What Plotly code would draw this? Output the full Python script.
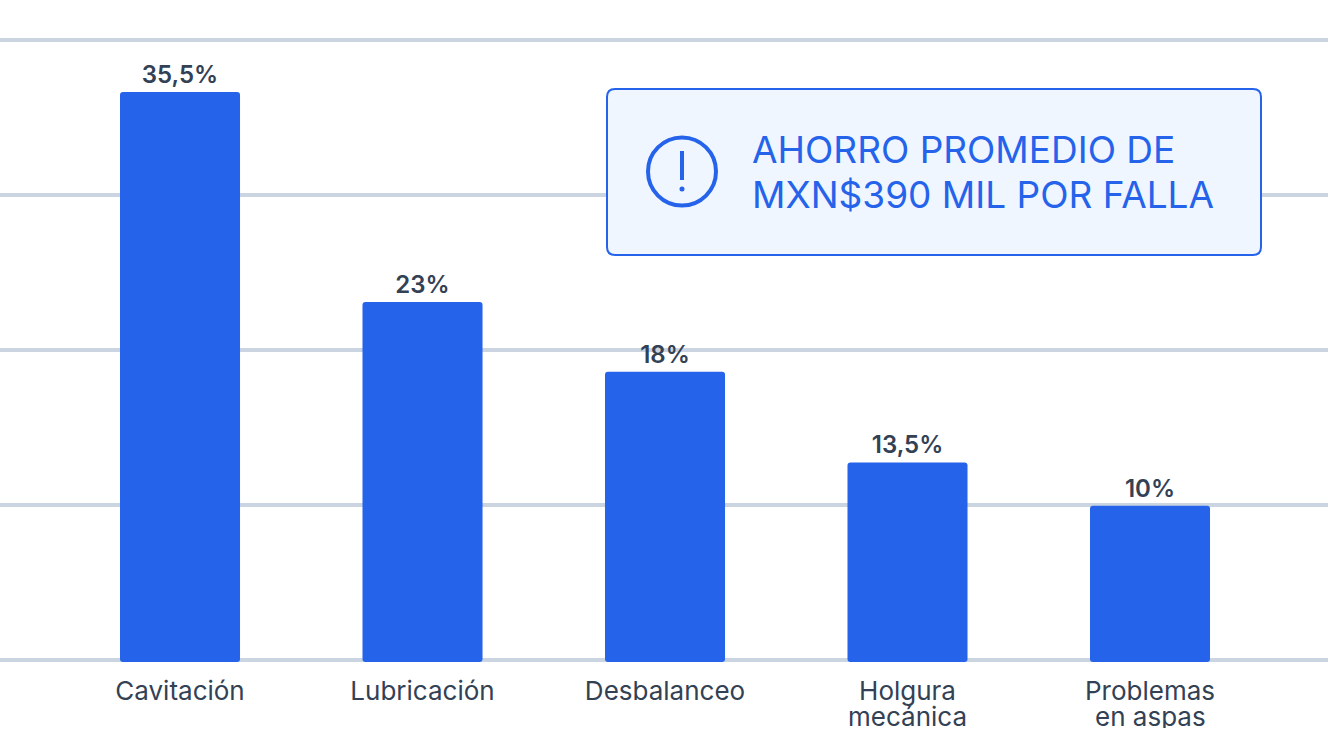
import plotly.graph_objects as go

categories = ["Cavitación", "Lubricación", "Desbalanceo", "Holgura", "Problemas"]
second_lines = ["", "", "", "mecánica", "en aspas"]
values = [36.65, 23.1, 18.6, 12.75, 9.95]
labels = ["35,5%", "23%", "18%", "13,5%", "10%"]
y_ticks = [0, 10, 20, 30, 40]

W, H = 1328, 730
L_T, L_B = 37, 663
ZERO_Y = 660
PX_PER_UNIT = 15.5
BLUE = "#2563EB"
SLATE = "#334155"
GRID = "#CBD5E1"
FONT = "Inter"
BAR_FLOOR = -0.13


def px(x):
    return x / W


def py(y):
    return (L_B - y) / (L_B - L_T)


fig = go.Figure(go.Bar(
    x=list(range(len(categories))), y=[v - BAR_FLOOR for v in values], base=BAR_FLOOR, width=0.495,
    marker=dict(color=BLUE, line_width=0, cornerradius=3),
    text=labels, textposition="outside", cliponaxis=False,
    textfont=dict(family=FONT, size=24, color=SLATE, weight=600),
    hoverinfo="skip",
))

x0, y0, x1, y1, r = px(607), py(89), px(1261), py(255), 8
rx, ry = r / W, r / (L_B - L_T)
box = (f"M {x0+rx} {y0} L {x1-rx} {y0} Q {x1} {y0} {x1} {y0-ry} L {x1} {y1+ry} Q {x1} {y1} {x1-rx} {y1} "
       f"L {x0+rx} {y1} Q {x0} {y1} {x0} {y1+ry} L {x0} {y0-ry} Q {x0} {y0} {x0+rx} {y0} Z")
shapes = [
    dict(type="path", path=box, xref="paper", yref="paper", fillcolor="#EFF6FF",
         line=dict(color=BLUE, width=2), layer="above"),
    dict(type="circle", xref="paper", yref="paper", x0=px(648), x1=px(716), y0=py(137.5), y1=py(205.5),
         line=dict(color=BLUE, width=4), layer="above"),
    dict(type="line", xref="paper", yref="paper", x0=px(682), x1=px(682), y0=py(151), y1=py(180),
         line=dict(color=BLUE, width=4), layer="above"),
    dict(type="circle", xref="paper", yref="paper", x0=px(679.5), x1=px(684.5), y0=py(186.5), y1=py(191.5),
         fillcolor=BLUE, line=dict(color=BLUE, width=0), layer="above"),
]

annotations = [
    dict(text="AHORRO PROMEDIO DE", xref="paper", yref="paper", x=px(750), y=py(150),
         xanchor="left", yanchor="middle", showarrow=False,
         font=dict(family=FONT, size=37, color=BLUE)),
    dict(text="MXN$390 MIL POR FALLA", xref="paper", yref="paper", x=px(750), y=py(194),
         xanchor="left", yanchor="middle", showarrow=False,
         font=dict(family=FONT, size=37, color=BLUE)),
]
for i, t in enumerate(second_lines):
    if t:
        annotations.append(dict(text=t, xref="x", yref="paper", x=i, y=py(716),
                                xanchor="center", yanchor="middle", showarrow=False, height=24,
                                font=dict(family=FONT, size=26, color=SLATE)))

fig.update_layout(
    width=W, height=H, margin=dict(l=0, r=0, t=L_T, b=H - L_B),
    paper_bgcolor="white", plot_bgcolor="white", showlegend=False,
    shapes=shapes, annotations=annotations,
    xaxis=dict(range=[-0.7423, 4.7340], tickmode="array", tickvals=list(range(len(categories))),
               ticktext=categories, showgrid=False, zeroline=False, showline=False, ticks="",
               ticklabelstandoff=10, tickfont=dict(family=FONT, size=26, color=SLATE)),
    yaxis=dict(range=[-(L_B - ZERO_Y) / PX_PER_UNIT, (ZERO_Y - L_T) / PX_PER_UNIT], tickvals=y_ticks,
               showticklabels=False, ticks="", gridcolor=GRID, gridwidth=4, zeroline=True,
               zerolinecolor=GRID, zerolinewidth=4, showline=False),
)
fig.write_html("out.html", config=dict(displayModeBar=False), include_plotlyjs=True,
               post_script="document.body.style.margin='0';document.body.style.overflow='hidden';")
